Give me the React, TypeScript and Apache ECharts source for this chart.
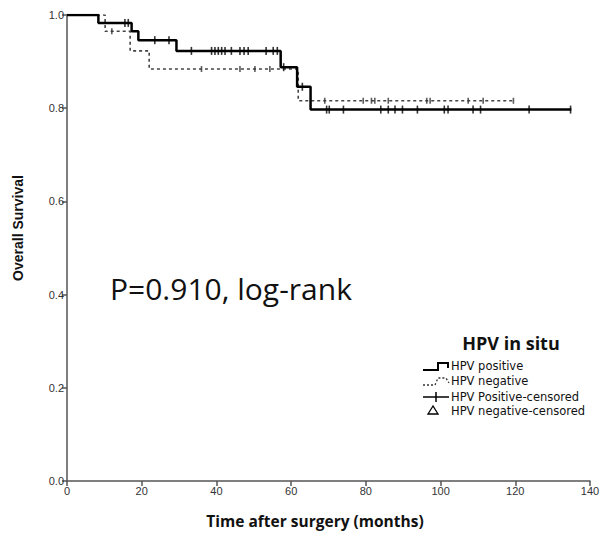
import React, { useEffect, useRef } from "react";
import * as echarts from "echarts";

// Kaplan-Meier step points (time in months, survival)
const posTimes = [0, 8.4, 17.3, 19.1, 29.3, 57.2, 61.6, 65.2, 135];
const posSurv = [1.0, 0.983, 0.965, 0.946, 0.923, 0.888, 0.846, 0.797, 0.797];
const negTimes = [0, 10.2, 16.9, 22.0, 61.9, 120];
const negSurv = [1.0, 0.965, 0.923, 0.884, 0.816, 0.816];

// censored observations
const posCensorTimes = [15.5, 16.4, 23.5, 27.3, 33.3, 38.7, 39.6, 40.5, 41.4, 42.3, 44, 46.3, 47.4, 48.5, 53.3, 55.2, 56.3, 58, 63, 69.5, 70.2, 74, 84, 86, 87.8, 89.8, 93.8, 101, 102, 108.7, 110.7, 123.7, 134.8];
const posCensorSurv = [0.983, 0.983, 0.946, 0.946, 0.923, 0.923, 0.923, 0.923, 0.923, 0.923, 0.923, 0.923, 0.923, 0.923, 0.923, 0.923, 0.923, 0.888, 0.846, 0.797, 0.797, 0.797, 0.797, 0.797, 0.797, 0.797, 0.797, 0.797, 0.797, 0.797, 0.797, 0.797, 0.797];
const negCensorTimes = [12, 36, 46.3, 50.3, 54.3, 69, 79.3, 81.5, 82.4, 86, 96.3, 97.2, 107.4, 111.4, 119.5];
const negCensorSurv = [0.965, 0.884, 0.884, 0.884, 0.884, 0.816, 0.816, 0.816, 0.816, 0.816, 0.816, 0.816, 0.816, 0.816, 0.816];

const xTicks = [0, 20, 40, 60, 80, 100, 120, 140];
const yTicks = [0.0, 0.2, 0.4, 0.6, 0.8, 1.0];

const legendTitle = "HPV in situ";
const legendItems = ["HPV positive", "HPV negative", "HPV Positive-censored", "HPV negative-censored"];
const pText = "P=0.910, log-rank";
const xTitle = "Time after surgery (months)";
const yTitle = "Overall Survival";

export default function App() {
  const ref = useRef<HTMLDivElement>(null);
  useEffect(() => {
    if (!ref.current) return;
    const chart = echarts.init(ref.current, null, { renderer: "svg" });
    const zip = (a: number[], b: number[]) => a.map((t, i) => [t, b[i]]);
    const axisColor = "#555";
    const labelStyle = { color: "#333", fontFamily: "Liberation Sans", fontSize: 11 };
    const lx = 423;
    const ty = [366, 381, 397, 411];
    chart.setOption({
      animation: false,
      backgroundColor: "#fff",
      grid: { left: 67, right: 13, top: 15, bottom: 54 },
      xAxis: {
        type: "value",
        min: xTicks[0],
        max: xTicks[xTicks.length - 1],
        interval: 20,
        axisLine: { lineStyle: { color: axisColor, width: 1.5 } },
        axisTick: { show: true, length: 5, lineStyle: { color: axisColor, width: 1.5 } },
        axisLabel: { ...labelStyle, margin: 4 },
        splitLine: { show: false },
      },
      yAxis: {
        type: "value",
        min: yTicks[0],
        max: yTicks[yTicks.length - 1],
        interval: 0.2,
        axisLine: { show: true, lineStyle: { color: axisColor, width: 1.5 } },
        axisTick: { show: true, length: 5, lineStyle: { color: axisColor, width: 1.5 } },
        axisLabel: { ...labelStyle, margin: 3, formatter: (v: number) => v.toFixed(1) },
        splitLine: { show: false },
      },
      series: [
        {
          type: "line",
          step: "end",
          data: zip(negTimes, negSurv),
          symbol: "none",
          lineStyle: { color: "#444", width: 1.6, type: [3, 3] },
          z: 2,
        },
        {
          type: "line",
          step: "end",
          data: zip(posTimes, posSurv),
          symbol: "none",
          lineStyle: { color: "#000", width: 2.5 },
          z: 3,
        },
        {
          type: "scatter",
          data: zip(posCensorTimes, posCensorSurv),
          symbol: "rect",
          symbolSize: [1.6, 8],
          itemStyle: { color: "#000" },
          z: 4,
        },
        {
          type: "scatter",
          data: zip(negCensorTimes, negCensorSurv),
          symbol: "rect",
          symbolSize: [1.6, 6],
          itemStyle: { color: "#333" },
          z: 4,
        },
      ],
      graphic: [
        {
          type: "text",
          x: 110,
          y: 288,
          style: { text: pText, fontFamily: "Open Sans", fontSize: 30, fill: "#111", verticalAlign: "middle" },
        },
        {
          type: "text",
          x: 18,
          y: 228,
          rotation: Math.PI / 2,
          style: { text: yTitle, fontFamily: "Liberation Sans", fontWeight: "bold", fontSize: 14, fill: "#111", align: "center", verticalAlign: "middle" },
        },
        {
          type: "text",
          x: 315,
          y: 521,
          style: { text: xTitle, fontFamily: "Open Sans", fontWeight: "bold", fontSize: 15.5, fill: "#111", align: "center", verticalAlign: "middle" },
        },
        {
          type: "text",
          x: 511,
          y: 343,
          style: { text: legendTitle, fontFamily: "Open Sans", fontWeight: "bold", fontSize: 18, fill: "#111", align: "center", verticalAlign: "middle" },
        },
        ...legendItems.map((t, i) => ({
          type: "text",
          x: 451,
          y: ty[i],
          style: { text: t, fontFamily: "DejaVu Sans", fontSize: 11.5, fill: "#111", verticalAlign: "middle" },
        })),
        {
          type: "polyline",
          shape: { points: [[lx, ty[0] + 4], [lx + 15, ty[0] + 4], [lx + 15, ty[0] - 3], [lx + 25, ty[0] - 3], [lx + 25, ty[0] + 2]] },
          style: { stroke: "#000", lineWidth: 2, fill: null },
        },
        {
          type: "polyline",
          shape: { points: [[lx, ty[1] + 4], [lx + 12, ty[1] + 4], [lx + 15, ty[1] - 3], [lx + 23, ty[1] - 3], [lx + 26, ty[1] + 2]] },
          style: { stroke: "#333", lineWidth: 1.3, lineDash: [2, 2], fill: null },
        },
        {
          type: "line",
          shape: { x1: lx, y1: ty[2], x2: lx + 26, y2: ty[2] },
          style: { stroke: "#000", lineWidth: 1.5 },
        },
        {
          type: "line",
          shape: { x1: lx + 13, y1: ty[2] - 5, x2: lx + 13, y2: ty[2] + 5 },
          style: { stroke: "#000", lineWidth: 1.5 },
        },
        {
          type: "polygon",
          shape: { points: [[lx + 10, ty[3] - 5], [lx + 5, ty[3] + 3], [lx + 15, ty[3] + 3]] },
          style: { stroke: "#000", lineWidth: 1.3, fill: null },
        },
      ],
    });
    return () => chart.dispose();
  }, []);
  return <div ref={ref} style={{ position: "fixed", left: 0, top: 0, width: 603, height: 535 }} />;
}
